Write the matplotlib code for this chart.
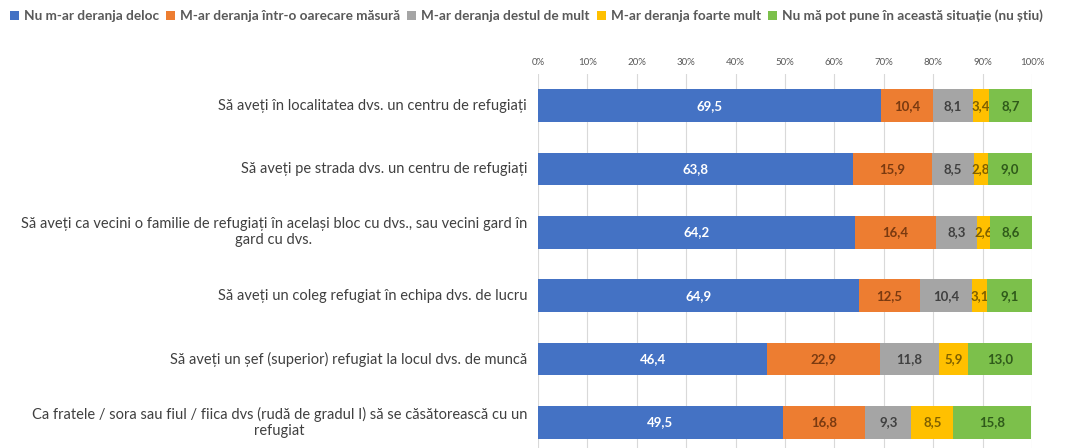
import numpy as np
import matplotlib.pyplot as plt

# ======================================================================
# Data
# ======================================================================
categories = [
    'Să aveți în localitatea dvs. un centru de refugiați',
    'Să aveți pe strada dvs. un centru de refugiați',
    'Să aveți ca vecini o familie de refugiați în același bloc cu dvs., sau vecini gard în\ngard cu dvs.',
    'Să aveți un coleg refugiat în echipa dvs. de lucru',
    'Să aveți un șef (superior) refugiat la locul dvs. de muncă',
    'Ca fratele / sora sau fiul / fiica dvs (rudă de gradul I) să se căsătorească cu un\nrefugiat',
]
series_names = [
    'Nu m-ar deranja deloc',
    'M-ar deranja într-o oarecare măsură',
    'M-ar deranja destul de mult',
    'M-ar deranja foarte mult',
    'Nu mă pot pune în această situație (nu știu)',
]
deloc = [69.5, 63.8, 64.2, 64.9, 46.4, 49.5]
oarecare = [10.4, 15.9, 16.4, 12.5, 22.9, 16.8]
destul = [8.1, 8.5, 8.3, 10.4, 11.8, 9.3]
foarte = [3.4, 2.8, 2.6, 3.1, 5.9, 8.5]
nu_stiu = [8.7, 9.0, 8.6, 9.1, 13.0, 15.8]
tick_values = list(range(0, 101, 10))

# ======================================================================
# Styles
# ======================================================================
colors = ['#4472C4', '#ED7D31', '#A5A5A5', '#FFC000', '#7CC04B']
label_colors = ['#ffffff', '#7a3a10', '#404040', '#7F6000', '#2f5a1a']
plt.rcParams['font.family'] = ['Lato', 'DejaVu Sans']

fig = plt.figure(figsize=(10.77, 4.48), dpi=100)
ax = fig.add_axes([0.4995, -0.0134, 0.4587, 0.8482])

all_series = [deloc, oarecare, destul, foarte, nu_stiu]
y = np.arange(len(categories))
left = np.zeros(len(categories))
for i, vals in enumerate(all_series):
    vals = np.array(vals)
    bars = ax.barh(y, vals, left=left, height=0.52, color=colors[i],
                   label=series_names[i], zorder=3)
    labels = ['{:.1f}'.format(v).replace('.', ',') for v in vals]
    ax.bar_label(bars, labels=labels, label_type='center', color=label_colors[i],
                 fontsize=9.5, fontweight='bold')
    left = left + vals

ax.set_xlim(0, 100)
ax.set_ylim(len(categories) - 0.5, -0.5)
ax.set_xticks(tick_values)
ax.set_xticklabels(['{}%'.format(t) for t in tick_values])
ax.xaxis.tick_top()
ax.tick_params(axis='x', length=0, labelsize=7, labelcolor='#595959', pad=5)

# category labels (centred lines, block right aligned)
ax.set_yticks(y)
ax.set_yticklabels([])
ax.tick_params(axis='y', length=0)
for yi, cat in zip(y, categories):
    ax.text(-0.022, yi, cat, transform=ax.get_yaxis_transform(), ha='right', va='center',
            multialignment='center', fontsize=10.5, color='#404040')

ax.grid(axis='x', color='#d9d9d9', linewidth=0.8, zorder=0)
for s in ax.spines.values():
    s.set_visible(False)

fig.legend(loc='upper left', bbox_to_anchor=(0.0, 1.0), ncol=5, frameon=False,
           handlelength=0.7, handleheight=0.7, handletextpad=0.35, columnspacing=0.5,
           borderaxespad=0.3, prop={'size': 9.8, 'weight': 'bold'}, labelcolor='#595959')

fig.savefig('out.png', dpi=100)
